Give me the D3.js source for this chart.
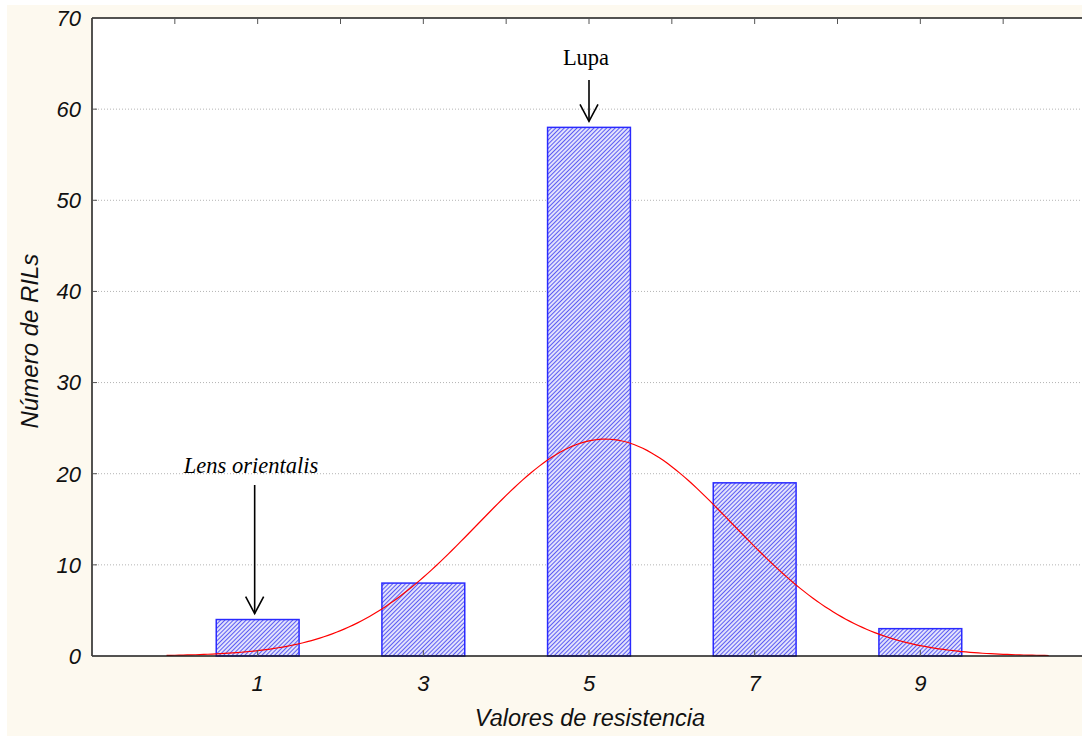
<!DOCTYPE html>
<html>
<head>
<meta charset="utf-8">
<script src="https://cdn.jsdelivr.net/npm/d3@7/dist/d3.min.js"></script>
<style>
  html, body { margin: 0; padding: 0; background: #ffffff; }
  svg { display: block; }
</style>
</head>
<body>
<svg id="chart" width="1082" height="736"></svg>
<script>
// Resistance classes and number of RILs in each class
const categories = [1, 3, 5, 7, 9];
const counts = [4, 8, 58, 19, 3];
const yTicks = [0, 10, 20, 30, 40, 50, 60, 70];
const topTicks = [0, 1, 2, 3, 4, 5, 6, 7, 8, 9, 10];
const curveRange = [-0.1, 10.55];

const svg = d3.select("#chart");
const W = 1082, H = 736;
const margin = { left: 92, top: 18, bottom: 80 };
const plotBottom = H - margin.bottom; // 656

const x = d3.scaleLinear().domain([-1, 11]).range([92, 1086]);
const y = d3.scaleLinear().domain([0, 70]).range([plotBottom, margin.top]);

// page background
svg.append("rect").attr("x", 7).attr("y", 5).attr("width", W).attr("height", H)
  .attr("fill", "#fdf9ef");
// plot area
svg.append("rect").attr("x", x(-1)).attr("y", y(70))
  .attr("width", x(11) - x(-1)).attr("height", y(0) - y(70)).attr("fill", "#ffffff");

// hatch pattern for the bars
const defs = svg.append("defs");
const pat = defs.append("pattern").attr("id", "hatch")
  .attr("patternUnits", "userSpaceOnUse").attr("width", 3).attr("height", 3)
  .attr("patternTransform", "rotate(45)");
pat.append("rect").attr("width", 3).attr("height", 3).attr("fill", "#e2e2fc");
pat.append("line").attr("x1", 0).attr("y1", 0).attr("x2", 0).attr("y2", 3)
  .attr("stroke", "#4444f2").attr("stroke-width", 1.7);

// horizontal dotted grid
svg.append("g").selectAll("line").data(yTicks.filter(d => d > 0 && d < 70)).join("line")
  .attr("x1", x(-1)).attr("x2", W).attr("y1", d => y(d)).attr("y2", d => y(d))
  .attr("stroke", "#b4b4b4").attr("stroke-width", 1).attr("stroke-dasharray", "1,2");

// bars
svg.append("g").selectAll("rect").data(categories.map((c, i) => ({ c, v: counts[i] }))).join("rect")
  .attr("x", d => x(d.c - 0.5)).attr("y", d => y(d.v))
  .attr("width", d => x(d.c + 0.5) - x(d.c - 0.5)).attr("height", d => y(0) - y(d.v))
  .attr("fill", "url(#hatch)").attr("stroke", "#2a2aff").attr("stroke-width", 1.5);

// fitted normal curve (expected counts, class width 1)
const n = d3.sum(counts);
const mean = d3.sum(categories.map((c, i) => c * counts[i])) / n;
const sd = Math.sqrt(d3.sum(categories.map((c, i) => counts[i] * (c - mean) ** 2)) / (n - 1));
const pts = d3.range(curveRange[0], curveRange[1] + 1e-9, 0.05).map(v => [
  v, n * Math.exp(-0.5 * ((v - mean) / sd) ** 2) / (sd * Math.sqrt(2 * Math.PI))
]);
svg.append("path").datum(pts)
  .attr("d", d3.line().x(d => x(d[0])).y(d => y(d[1])))
  .attr("fill", "none").attr("stroke", "#ff0000").attr("stroke-width", 1.2);

// axes lines (left, bottom, top)
const axisColor = "#1a1a1a";
svg.append("line").attr("x1", x(-1)).attr("x2", x(-1)).attr("y1", y(70)).attr("y2", y(0))
  .attr("stroke", axisColor).attr("stroke-width", 1.5);
svg.append("line").attr("x1", x(-1)).attr("x2", W).attr("y1", y(0)).attr("y2", y(0))
  .attr("stroke", axisColor).attr("stroke-width", 1.5);
svg.append("line").attr("x1", x(-1)).attr("x2", W).attr("y1", y(70)).attr("y2", y(70))
  .attr("stroke", axisColor).attr("stroke-width", 1.5);

// inward ticks
const tickColor = "#555555";
svg.append("g").selectAll("line").data(yTicks).join("line")
  .attr("x1", x(-1)).attr("x2", x(-1) + 5).attr("y1", d => y(d)).attr("y2", d => y(d))
  .attr("stroke", tickColor).attr("stroke-width", 1);
svg.append("g").selectAll("line").data(categories).join("line")
  .attr("x1", d => x(d)).attr("x2", d => x(d)).attr("y1", y(0)).attr("y2", y(0) - 6)
  .attr("stroke", tickColor).attr("stroke-width", 1);
svg.append("g").selectAll("line").data(topTicks).join("line")
  .attr("x1", d => x(d)).attr("x2", d => x(d)).attr("y1", y(70)).attr("y2", y(70) + 6)
  .attr("stroke", tickColor).attr("stroke-width", 1);

// tick labels
const sans = "'Liberation Sans', Arial, sans-serif";
svg.append("g").selectAll("text").data(yTicks).join("text")
  .attr("x", 81).attr("y", d => y(d)).attr("dy", "0.36em")
  .attr("text-anchor", "end").attr("font-family", sans).attr("font-style", "italic")
  .attr("font-size", 22).attr("fill", "#111").text(d => d);
svg.append("g").selectAll("text").data(categories).join("text")
  .attr("x", d => x(d)).attr("y", 691)
  .attr("text-anchor", "middle").attr("font-family", sans).attr("font-style", "italic")
  .attr("font-size", 22).attr("fill", "#111").text(d => d);

// axis titles
svg.append("text").attr("x", 590).attr("y", 726).attr("text-anchor", "middle")
  .attr("font-family", sans).attr("font-style", "italic").attr("font-size", 23.5)
  .attr("fill", "#111").text("Valores de resistencia");
svg.append("text").attr("transform", "translate(38,341) rotate(-90)")
  .attr("text-anchor", "middle").attr("font-family", sans).attr("font-style", "italic")
  .attr("font-size", 24).attr("fill", "#111").text("Número de RILs");

// annotations with arrows
const serif = "'Liberation Serif', 'Times New Roman', serif";
function arrow(xv, y1, y2) {
  const g = svg.append("g").attr("stroke", "#000").attr("stroke-width", 1.6).attr("fill", "none");
  g.append("line").attr("x1", xv).attr("x2", xv).attr("y1", y1).attr("y2", y2);
  g.append("path").attr("d", `M${xv - 9},${y2 - 17}L${xv},${y2}L${xv + 9},${y2 - 17}`);
}
svg.append("text").attr("x", 586).attr("y", 65).attr("text-anchor", "middle")
  .attr("font-family", serif).attr("font-size", 22.5).attr("fill", "#000").text("Lupa");
arrow(x(5), 80, y(58) - 6);
svg.append("text").attr("x", 251).attr("y", 473).attr("text-anchor", "middle")
  .attr("font-family", serif).attr("font-style", "italic").attr("font-size", 22.5)
  .attr("fill", "#000").text("Lens orientalis");
arrow(x(1) - 3, 485, y(4) - 6);
</script>
</body>
</html>
